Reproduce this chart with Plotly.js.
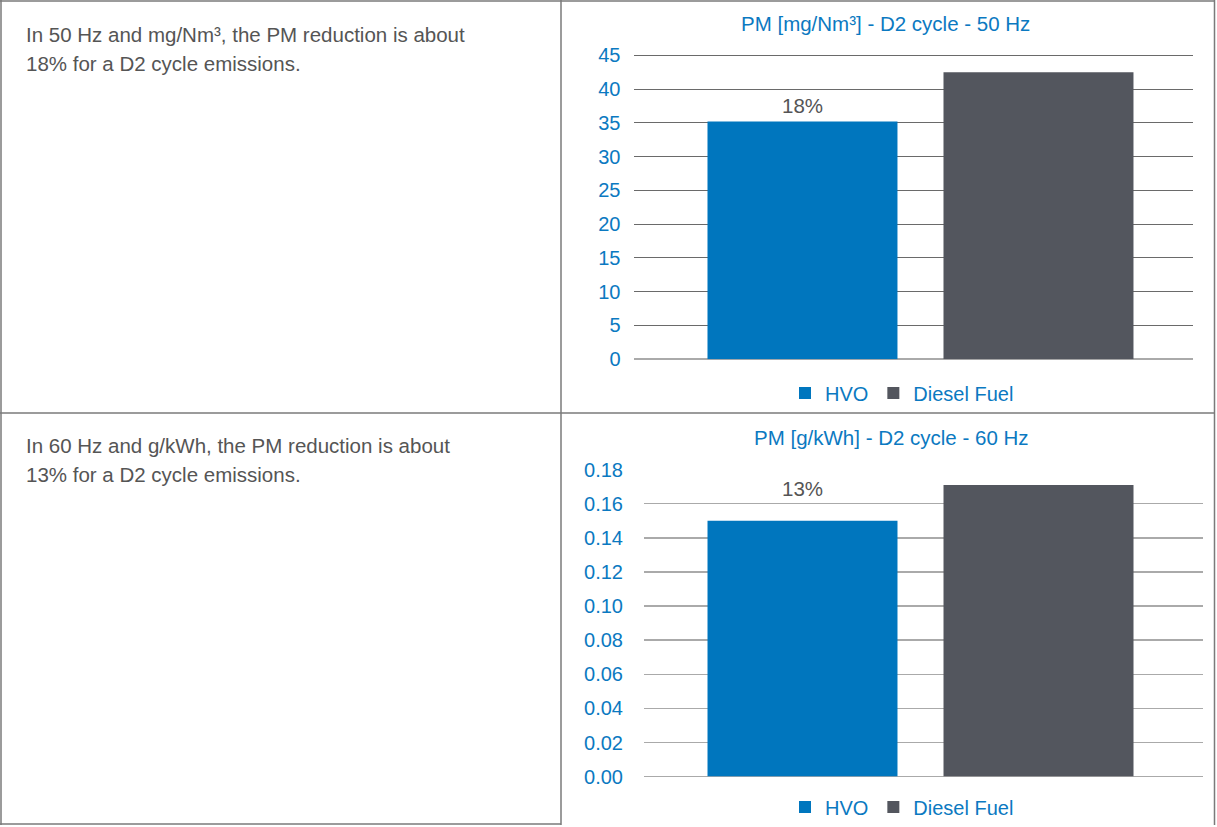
<!DOCTYPE html>
<html>
<head>
<meta charset="utf-8">
<script src="https://cdn.plot.ly/plotly-3.0.1.min.js"></script>
<style>html,body{margin:0;padding:0;background:#fff;}#chart{width:1217px;height:827px;}</style>
</head>
<body>
<div id="chart"></div>
<script>
// ---- data ----
const categories = ['HVO', 'Diesel Fuel'];
const pm50Hz = [35.2, 42.5];          // PM [mg/Nm³] - D2 cycle - 50 Hz
const pm60Hz = [0.150, 0.171];        // PM [g/kWh] - D2 cycle - 60 Hz
const reductionLabels = ['18%', '13%'];
const chartTitles = ['PM [mg/Nm³] - D2 cycle - 50 Hz', 'PM [g/kWh] - D2 cycle - 60 Hz'];
const descriptions = [
  ['In 50 Hz and mg/Nm³, the PM reduction is about', '18% for a D2 cycle emissions.'],
  ['In 60 Hz and g/kWh, the PM reduction is about', '13% for a D2 cycle emissions.']
];

// ---- style ----
const W = 1217, H = 827;
const colors = ['#0076be', '#53565e'];
const blue = '#0b79c1';
const FONT = 'Liberation Sans, Arial, Helvetica, sans-serif';
const px = v => v / W;
const py = v => 1 - v / H;

const traces = [];
categories.forEach((c, i) => {
  traces.push({type: 'bar', x: [c], y: [pm50Hz[i]], name: c, xaxis: 'x', yaxis: 'y',
    marker: {color: colors[i]}, width: 0.805, legend: 'legend', hoverinfo: 'none'});
});
categories.forEach((c, i) => {
  traces.push({type: 'bar', x: [c], y: [pm60Hz[i]], name: c, xaxis: 'x2', yaxis: 'y2',
    marker: {color: colors[i]}, width: 0.805, legend: 'legend2', hoverinfo: 'none'});
});

const annotations = [];
// chart titles
annotations.push({text: chartTitles[0], xref: 'paper', yref: 'paper', x: px(886), y: py(24),
  xanchor: 'center', yanchor: 'middle', showarrow: false, font: {family: FONT, size: 20.5, color: blue}});
annotations.push({text: chartTitles[1], xref: 'paper', yref: 'paper', x: px(892), y: py(439),
  xanchor: 'center', yanchor: 'middle', showarrow: false, font: {family: FONT, size: 20.5, color: blue}});
// percentage labels above HVO bars
annotations.push({text: reductionLabels[0], xref: 'x', yref: 'y', x: categories[0], y: pm50Hz[0],
  xanchor: 'center', yanchor: 'bottom', yshift: 2, showarrow: false, font: {family: FONT, size: 20.5, color: '#555'}});
annotations.push({text: reductionLabels[1], xref: 'x2', yref: 'y2', x: categories[0], y: pm60Hz[0],
  xanchor: 'center', yanchor: 'bottom', yshift: 19, showarrow: false, font: {family: FONT, size: 20.5, color: '#555'}});
// descriptions in left cells
const descY = [[35, 64], [447, 476]];
descriptions.forEach((lines, k) => {
  lines.forEach((t, j) => {
    annotations.push({text: t, xref: 'paper', yref: 'paper', x: px(24), y: py(descY[k][j]),
      xanchor: 'left', yanchor: 'middle', showarrow: false, font: {family: FONT, size: 20.5, color: '#555'}});
  });
});

const border = '#7a7a7a';
const line = (x0, y0, x1, y1) => ({type: 'line', xref: 'paper', yref: 'paper',
  x0: px(x0), y0: py(y0), x1: px(x1), y1: py(y1), line: {color: border, width: 1.5}});
const shapes = [
  line(0, 1, 1215, 1),
  line(1, 0, 1, 827),
  line(1214.5, 0, 1214.5, 827),
  line(561, 0, 561, 827),
  line(0, 414, 1215, 414),
  line(0, 826, 561, 826)
];

const legendFont = {family: FONT, size: 20, color: blue};

const layout = {
  width: W, height: H,
  margin: {l: 0, r: 0, t: 0, b: 0},
  paper_bgcolor: '#fff', plot_bgcolor: 'rgba(0,0,0,0)',
  barmode: 'overlay',
  showlegend: true,
  font: {family: FONT, color: blue},
  xaxis: {domain: [px(633.5), px(1193)], type: 'category', range: [-0.716, 1.6547],
    showticklabels: false, showgrid: false, zeroline: false, showline: false, ticks: '', fixedrange: true, anchor: 'y'},
  yaxis: {domain: [py(360), py(54.1)], range: [0, 45.2], dtick: 5, tick0: 0,
    gridcolor: '#6a6a6a', gridwidth: 1, zeroline: true, zerolinecolor: '#aaaaaa', zerolinewidth: 1.5,
    showline: false, ticks: '', ticklabelstandoff: 12, tickfont: {family: FONT, size: 20, color: blue}, fixedrange: true, anchor: 'x'},
  xaxis2: {domain: [px(644), px(1203)], type: 'category', range: [-0.6716, 1.697],
    showticklabels: false, showgrid: false, zeroline: false, showline: false, ticks: '', fixedrange: true, anchor: 'y2'},
  yaxis2: {domain: [py(778.5), py(469.85)], range: [0, 0.1805], dtick: 0.02, tick0: 0, tickformat: '.2f',
    gridcolor: '#aaaaaa', gridwidth: 1.5, zeroline: true, zerolinecolor: '#aaaaaa', zerolinewidth: 1.5,
    showline: false, ticks: '', ticklabelstandoff: 20, tickfont: {family: FONT, size: 20, color: blue}, fixedrange: true, anchor: 'x2'},
  legend: {orientation: 'h', x: px(902), xanchor: 'center', y: py(394), yanchor: 'middle',
    font: legendFont, itemwidth: 30, tracegroupgap: 0, bgcolor: 'rgba(0,0,0,0)'},
  legend2: {orientation: 'h', x: px(902), xanchor: 'center', y: py(809), yanchor: 'middle',
    font: legendFont, itemwidth: 30, tracegroupgap: 0, bgcolor: 'rgba(0,0,0,0)'},
  annotations: annotations,
  shapes: shapes
};

Plotly.newPlot('chart', traces, layout, {displayModeBar: false, staticPlot: true});
</script>
</body>
</html>
